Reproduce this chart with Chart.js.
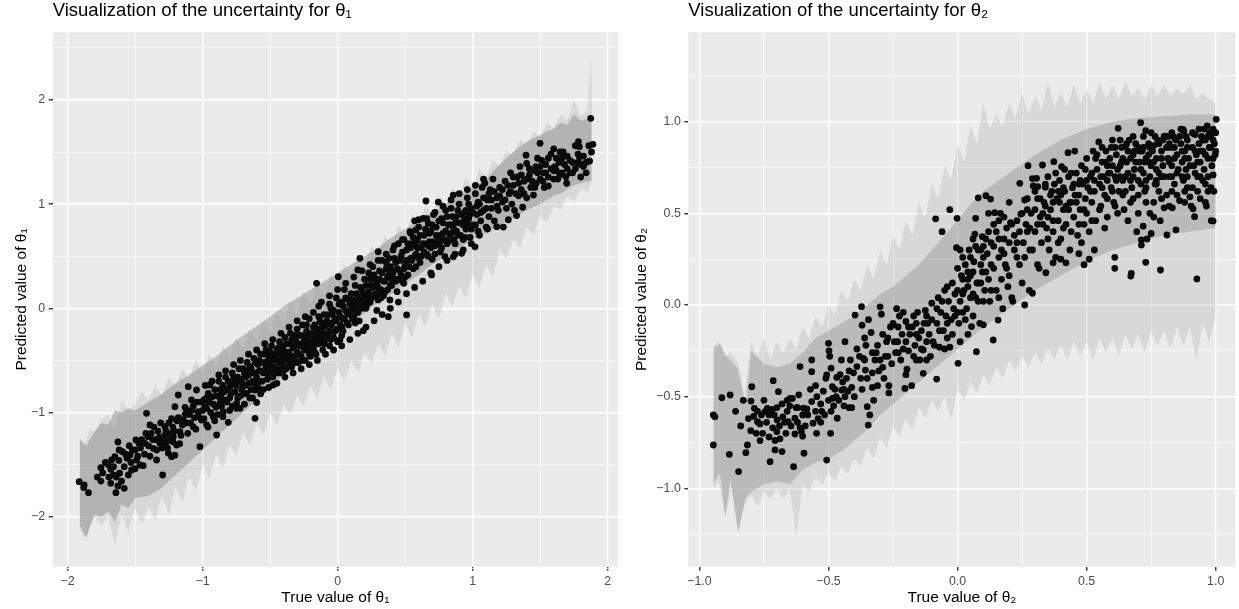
<!DOCTYPE html>
<html>
<head>
<meta charset="utf-8">
<script src="https://cdn.jsdelivr.net/npm/chart.js@4.4.1/dist/chart.umd.min.js"></script>
<style>
  html, body { margin: 0; padding: 0; background: #ffffff; }
  #left { position: absolute; left: 0; top: 0; }
  #right { position: absolute; left: 624px; top: 0; }
</style>
</head>
<body>
<canvas id="left" width="624" height="609"></canvas>
<canvas id="right" width="615" height="609"></canvas>
<script>
// theta 1: [true value, predicted value]
const theta1Points = [
  [-1.914,-1.664],[-1.877,-1.696],[-1.845,-1.77],[-1.753,-1.53],[-1.753,-1.658],[-1.72,-1.48],[-1.694,-1.62],[-1.68,-1.545],
  [-1.674,-1.456],[-1.66,-1.60],[-1.65,-1.424],[-1.627,-1.283],[-1.618,-1.36],[-1.642,-1.77],[-1.627,-1.705],[-1.615,-1.583],
  [-1.58,-1.728],[-1.593,-1.376],[-1.56,-1.44],[-1.543,-1.318],[-1.538,-1.408],[-1.526,-1.552],[-1.50,-1.36],[-1.489,-1.456],
  [-1.47,-1.30],[-1.464,-1.504],[-1.494,-1.264],[-1.44,-1.51],
  [-1.88,-1.72],[-1.78,-1.62],[-1.74,-1.58],[-1.70,-1.50],[-1.68,-1.68],[-1.66,-1.52],[-1.64,-1.62],[-1.62,-1.46],
  [-1.60,-1.66],[-1.58,-1.52],[-1.57,-1.40],[-1.55,-1.60],[-1.53,-1.48],[-1.52,-1.36],[-1.50,-1.54],[-1.48,-1.42],
  [-1.46,-1.34],[-1.45,-1.26],[-1.43,-1.40],[-1.42,-1.20],[-1.40,-1.32],[-1.39,-1.42],[-1.37,-1.26],[-1.36,-1.14],
  [-1.34,-1.36],[-1.32,-1.24],[-1.31,-1.10],[-1.29,-1.28],[-1.27,-1.18],[-1.26,-1.34],[-1.25,-1.20],[-1.23,-1.06],[-1.22,-1.28],
  [-1.415,-1.008],[-1.39,-1.12],[-1.403,-1.232],[-1.427,-1.296],[-1.366,-1.344],[-1.341,-1.456],[-1.296,-1.6],[-1.316,-1.296],
  [-1.279,-1.136],[-1.267,-1.28],[-1.254,-1.39],[-1.23,-1.424],[-1.205,-1.41],[-1.217,-1.232],[-1.205,-0.944],[-1.193,-1.312],
  [-1.168,-1.184],[-1.18,-0.832],[-1.143,-1.072],[-1.119,-0.976],[-1.106,-0.752],[-1.082,-0.88],[-1.07,-1.136],[-1.045,-0.784],
  [-1.032,-0.992],[-1.02,-1.328],[-1.008,-1.072],[-0.983,-0.944],[-0.97,-1.12],[-0.958,-0.816],[-0.946,-0.736],
  [-1.38,-1.20],[-1.35,-1.26],[-1.33,-1.18],[-1.30,-1.34],[-1.28,-1.22],[-1.25,-1.10],[-1.24,-1.26],[-1.22,-1.14],
  [-1.18,-1.05],[-1.16,-1.22],[-1.13,-0.95],[-1.12,-1.10],[-1.10,-1.02],[-1.08,-0.98],[-1.06,-1.05],[-1.04,-0.90],
  [-1.00,-0.98],[-0.99,-0.88],
  [-1.21,-1.18],[-1.19,-1.08],[-1.17,-1.30],[-1.15,-1.12],[-1.13,-1.02],[-1.11,-1.20],[-1.09,-1.10],[-1.07,-0.94],
  [-1.05,-1.16],[-1.03,-1.04],[-1.01,-0.90],[-0.99,-1.06],[-0.97,-0.96],[-0.95,-0.90],[-0.94,-1.00],[-0.92,-0.92],
  [-0.90,-0.84],[-0.89,-1.02],[-0.87,-0.78],[-0.86,-0.94],[-0.85,-0.74],[-0.84,-0.80],[-0.82,-0.90],[-0.81,-0.70],
  [-0.79,-0.82],[-0.78,-0.94],[-0.77,-0.66],[-0.75,-0.74],[-0.74,-0.86],[-0.72,-0.70],[-0.71,-0.78],[-0.70,-0.58],
  [-0.69,-0.82],[-0.68,-0.66],[-0.66,-0.72],[-0.65,-0.56],[-0.64,-0.78],[-0.63,-0.62],[-0.62,-0.72],[-0.61,-0.52],
  [-0.60,-0.66],[-0.59,-0.76],[-0.58,-0.60],[-0.57,-0.52],[-0.56,-0.70],[-0.55,-0.62],[-0.54,-0.44],[-0.53,-0.56],
  [-0.52,-0.68],[-0.51,-0.54],[-0.50,-0.42],[-0.49,-0.60],[-0.48,-0.50],[-0.47,-0.56],[-0.46,-0.44],[-0.45,-0.62],
  [-0.98,-0.74],[-0.96,-1.14],[-0.93,-0.70],[-0.91,-1.08],[-0.88,-0.64],[-0.85,-1.04],[-0.83,-0.60],[-0.80,-0.98],
  [-0.77,-0.54],[-0.75,-0.96],[-0.72,-0.50],[-0.69,-0.92],[-0.66,-0.44],[-0.63,-0.86],[-0.60,-0.40],[-0.57,-0.82],
  [-0.54,-0.34],[-0.51,-0.76],[-0.48,-0.30],[-0.45,-0.72],[-0.42,-0.24],[-0.39,-0.66],[-0.36,-0.18],[-0.33,-0.62],
  [-0.30,-0.12],[-0.27,-0.58],[-0.24,-0.08],[-0.21,-0.54],[-0.18,-0.04],[-0.15,-0.50],[-0.12,0.06],[-0.09,-0.44],
  [-0.06,0.12],[-0.03,-0.40],[0.00,0.18],[0.03,-0.36],[0.06,0.24],[0.09,-0.30],[0.12,0.30],[0.15,-0.24],
  [0.18,0.36],[0.21,-0.18],[0.24,0.42],[0.27,-0.12],[0.30,0.46],[0.33,-0.06],[0.36,0.52],[0.39,0.00],
  [0.42,0.60],[0.45,0.06],[0.48,0.66],[0.51,0.14],[0.54,0.72],[0.57,0.20],[0.60,0.78],[0.63,0.26],
  [0.66,0.86],[0.69,0.34],[0.72,0.92],[0.75,0.40],[0.78,0.98],[0.81,0.46],[0.84,1.04],[0.87,0.52],
  [0.90,1.10],[0.93,0.56],[0.96,1.14],[0.99,0.62],[1.02,1.18],[1.05,0.70],[1.08,1.24],[1.11,0.76],
  [-0.97,-0.86],[-0.87,-0.86],[-0.76,-0.70],[-0.67,-0.60],[-0.58,-0.50],[-0.49,-0.46],[-0.41,-0.46],[-0.32,-0.26],
  [-0.23,-0.16],[-0.14,-0.08],[-0.05,0.00],[0.04,-0.22],[0.13,-0.14],[0.22,0.10],[0.31,0.14],[0.40,0.28],
  [0.49,0.24],[0.58,0.62],[0.67,0.60],[0.76,0.64],[0.85,0.80],[0.94,0.86],[1.03,0.98],
  [-0.921,-1.04],[-0.896,-1.216],[-0.872,-0.912],[-0.847,-0.992],[-0.81,-1.094],[-0.798,-0.752],[-0.748,-0.912],[-0.723,-0.96],
  [-0.70,-0.736],[-0.674,-0.816],[-0.612,-1.056],[-0.60,-0.904],[-0.612,-0.784],[-0.477,-0.736],
  [-0.93,-0.85],[-0.91,-0.78],[-0.90,-0.95],[-0.88,-0.70],[-0.86,-0.82],[-0.84,-0.88],[-0.83,-0.66],[-0.82,-0.78],
  [-0.80,-0.86],[-0.78,-0.62],[-0.77,-0.72],[-0.76,-0.80],[-0.74,-0.66],[-0.73,-0.58],[-0.72,-0.84],[-0.71,-0.68],
  [-0.69,-0.62],[-0.68,-0.74],[-0.67,-0.52],[-0.66,-0.64],[-0.65,-0.86],[-0.64,-0.58],[-0.63,-0.70],[-0.62,-0.48],
  [-0.61,-0.62],[-0.59,-0.54],[-0.58,-0.70],[-0.57,-0.44],[-0.56,-0.60],[-0.55,-0.78],[-0.54,-0.52],[-0.53,-0.40],
  [-0.52,-0.62],[-0.51,-0.48],[-0.50,-0.56],[-0.49,-0.36],[-0.48,-0.66],[-0.47,-0.46],
  [-0.44,-0.38],[-0.43,-0.52],[-0.42,-0.58],[-0.41,-0.40],[-0.40,-0.60],[-0.39,-0.46],[-0.38,-0.34],[-0.37,-0.56],
  [-0.36,-0.42],[-0.35,-0.52],[-0.34,-0.30],[-0.33,-0.46],[-0.32,-0.36],[-0.31,-0.52],[-0.30,-0.34],[-0.29,-0.26],
  [-0.28,-0.44],[-0.27,-0.34],[-0.26,-0.50],[-0.25,-0.28],[-0.24,-0.40],[-0.23,-0.34],[-0.22,-0.24],[-0.21,-0.44],
  [-0.20,-0.26],[-0.19,-0.36],[-0.18,-0.18],[-0.17,-0.42],[-0.16,-0.28],[-0.15,-0.34],[-0.14,-0.20],[-0.13,-0.30],
  [-0.12,-0.14],[-0.11,-0.24],[-0.10,-0.34],[-0.09,-0.16],[-0.08,-0.26],[-0.07,-0.06],[-0.06,-0.22],[-0.05,-0.30],
  [-0.04,-0.14],[-0.03,-0.02],[-0.02,-0.22],[-0.01,-0.12],[0.00,-0.20],[0.01,0.04],[0.02,-0.08],[0.03,-0.18],
  [-0.46,-0.58],[-0.45,-0.40],[-0.44,-0.50],[-0.43,-0.32],[-0.43,-0.62],[-0.42,-0.44],[-0.41,-0.54],[-0.40,-0.36],
  [-0.40,-0.48],[-0.39,-0.28],[-0.38,-0.42],[-0.38,-0.58],[-0.37,-0.50],[-0.36,-0.34],[-0.35,-0.46],[-0.35,-0.24],
  [-0.34,-0.56],[-0.33,-0.38],[-0.32,-0.48],[-0.31,-0.30],[-0.30,-0.42],[-0.30,-0.20],[-0.29,-0.52],[-0.28,-0.36],
  [-0.27,-0.26],[-0.27,-0.46],[-0.26,-0.16],[-0.25,-0.38],[-0.24,-0.30],[-0.24,-0.50],[-0.23,-0.22],[-0.22,-0.40],
  [-0.21,-0.10],[-0.20,-0.32],[-0.20,-0.46],[-0.19,-0.24],[-0.193,-0.448],[-0.18,-0.38],[-0.17,-0.16],[-0.17,-0.30],
  [-0.16,-0.44],[-0.156,0.24],[-0.15,-0.22],[-0.14,0.02],[-0.14,-0.34],[-0.13,-0.12],[-0.12,-0.26],[-0.11,-0.40],
  [-0.10,-0.18],[-0.10,-0.06],[-0.09,-0.30],[-0.08,-0.12],[-0.07,-0.24],[-0.06,0.04],[-0.06,-0.36],[-0.05,-0.16],
  [-0.04,-0.06],[-0.03,-0.28],[-0.02,-0.10],[-0.01,0.10],[-0.01,-0.20],[0.00,-0.32],[0.005,0.303],[0.01,-0.04],
  [0.017,-0.304],[0.02,-0.16],[0.03,0.06],[0.03,-0.26],[0.04,-0.10],[0.05,0.18],
  [0.04,0.02],[0.05,-0.10],[0.06,0.10],[0.07,-0.04],[0.08,-0.16],[0.09,0.04],[0.10,-0.02],[0.11,0.08],
  [0.12,-0.08],[0.13,0.04],[0.14,0.14],[0.15,-0.04],[0.16,0.06],[0.17,0.20],[0.18,0.00],[0.19,0.14],
  [0.20,0.06],[0.21,0.22],[0.22,0.04],[0.23,0.16],[0.24,0.28],[0.25,0.10],[0.26,0.20],[0.27,0.32],
  [0.28,0.14],[0.29,0.24],[0.30,0.08],[0.31,0.28],[0.32,0.18],[0.33,0.34],[0.34,0.12],[0.35,0.26],
  [0.36,0.44],[0.37,0.18],[0.38,0.32],[0.39,0.40],[0.40,0.22],[0.41,0.34],[0.42,0.48],[0.43,0.26],
  [0.44,0.38],[0.45,0.28],[0.46,0.46],[0.47,0.32],[0.48,0.54],[0.49,0.38],[0.50,0.30],[0.51,0.46],
  [0.06,-0.02],[0.07,-0.14],[0.08,0.08],[0.09,-0.06],[0.10,0.14],[0.11,-0.10],[0.12,0.02],[0.13,0.22],
  [0.14,-0.02],[0.15,0.10],[0.15,0.368],[0.16,-0.12],[0.165,0.48],[0.17,0.04],[0.18,0.18],[0.19,-0.215],
  [0.19,0.08],[0.20,0.28],[0.21,0.00],[0.22,0.14],[0.23,0.34],[0.24,0.06],[0.25,0.22],[0.26,0.40],
  [0.27,0.12],[0.28,0.28],[0.29,-0.02],[0.30,0.543],[0.30,0.20],[0.31,0.36],[0.32,0.10],[0.33,0.46],
  [0.34,0.26],[0.35,0.16],[0.36,0.38],[0.375,-0.08],[0.37,0.30],[0.387,0.08],[0.38,0.48],[0.39,0.22],
  [0.40,0.36],[0.41,0.56],[0.42,0.28],[0.43,0.44],[0.44,0.16],[0.45,0.62],[0.46,0.36],[0.47,0.50],
  [0.48,0.26],[0.49,0.66],[0.50,0.42],[0.511,-0.064],[0.51,0.56],[0.52,0.32],[0.536,0.735],[0.54,0.48],
  [0.55,0.62],[0.56,0.38],[0.57,0.84],[0.578,0.75],[0.58,0.52],[0.59,0.66],[0.60,0.85],
  [0.52,0.62],[0.53,0.40],[0.54,0.58],[0.55,0.46],[0.56,0.68],[0.57,0.50],[0.58,0.40],[0.59,0.58],
  [0.60,0.48],[0.61,0.70],[0.62,0.50],[0.63,0.62],[0.64,0.54],[0.65,0.76],[0.66,0.62],[0.67,0.50],
  [0.68,0.72],[0.69,0.58],[0.70,0.80],[0.71,0.64],[0.72,0.52],[0.73,0.70],[0.74,0.62],[0.75,0.84],
  [0.76,0.70],[0.77,0.58],[0.78,0.82],[0.79,0.66],[0.80,0.74],[0.81,0.88],[0.82,0.64],[0.83,0.80],
  [0.84,0.72],[0.85,0.88],[0.86,0.66],[0.87,0.82],[0.88,0.74],[0.89,0.94],[0.90,0.82],[0.91,0.70],
  [0.92,0.90],[0.93,0.80],[0.94,0.68],[0.95,0.94],[0.96,0.80],[0.97,1.00],[0.98,0.90],[0.99,0.76],
  [0.61,0.44],[0.62,0.58],[0.634,0.864],[0.64,0.70],[0.654,1.03],[0.66,0.52],[0.671,0.815],[0.68,0.64],
  [0.69,0.74],[0.696,0.32],[0.70,0.47],[0.71,0.90],[0.72,0.60],[0.73,0.78],[0.745,1.02],[0.75,0.68],
  [0.76,0.54],[0.77,0.86],[0.78,0.72],[0.795,0.495],[0.80,0.94],[0.81,0.62],[0.82,0.80],[0.83,0.70],
  [0.84,0.96],[0.856,1.087],[0.856,0.495],[0.86,0.76],[0.87,0.62],[0.88,0.88],[0.89,0.70],[0.90,1.00],
  [0.918,0.528],[0.92,0.82],[0.93,0.66],[0.94,0.92],[0.95,0.76],[0.96,1.06],[0.97,0.86],[0.98,0.68],
  [0.99,0.96],[1.00,0.80],[1.017,0.59],[1.02,1.10],[1.03,0.90],[1.04,0.74],[1.05,1.00],[1.06,0.84],
  [1.07,1.16],[1.08,0.94],[1.09,1.20],[1.10,0.78],[1.11,1.04],[1.12,0.88],[1.13,1.14],[1.14,0.96],
  [1.15,1.24],[1.16,0.84],[1.178,0.783],[1.18,1.06],[1.19,0.94],[1.20,1.16],
  [1.00,0.92],[1.02,0.80],[1.04,1.02],[1.06,0.92],[1.08,1.06],[1.10,0.96],[1.12,1.10],[1.14,1.04],
  [1.16,1.12],[1.18,0.98],[1.20,1.08],[1.22,1.14],[1.24,1.04],[1.26,1.18],[1.28,1.12],[1.30,1.26],
  [1.32,1.10],[1.34,1.20],[1.36,1.28],[1.38,1.10],[1.40,1.24],[1.42,1.34],[1.44,1.22],[1.46,1.16],
  [1.48,1.30],[1.50,1.36],[1.52,1.22],[1.54,1.30],[1.56,1.44],[1.58,1.34],[1.60,1.24],[1.62,1.32],
  [1.64,1.40],[1.66,1.30],[1.68,1.38],[1.70,1.46],[1.72,1.30],[1.74,1.40],[1.76,1.34],[1.78,1.48],
  [1.80,1.38],[1.82,1.46],[1.84,1.40],[1.86,1.56],[1.88,1.50],
  [1.22,1.02],[1.227,0.78],[1.24,1.22],[1.25,0.96],[1.264,0.85],[1.27,1.10],[1.28,1.30],[1.29,1.00],
  [1.30,1.18],[1.31,0.94],[1.325,0.89],[1.33,1.26],[1.34,1.08],[1.35,1.36],[1.36,1.14],[1.37,0.97],
  [1.38,1.22],[1.395,1.47],[1.40,1.39],[1.40,1.06],[1.42,1.28],[1.43,1.16],[1.45,1.087],[1.46,1.32],
  [1.468,1.36],[1.47,1.20],[1.48,1.44],[1.499,1.583],[1.50,1.24],[1.51,1.42],[1.52,1.30],[1.53,1.16],
  [1.54,1.38],[1.56,1.174],[1.56,1.26],[1.58,1.48],[1.60,1.53],[1.60,1.32],[1.61,1.36],[1.62,1.44],
  [1.63,1.24],[1.646,1.50],[1.645,1.28],[1.66,1.44],[1.67,1.50],[1.69,1.263],[1.696,1.20],[1.70,1.34],
  [1.72,1.42],[1.74,1.30],[1.76,1.56],[1.78,1.40],[1.783,1.60],[1.785,1.40],[1.79,1.55],[1.79,1.455],
  [1.80,1.26],[1.82,1.36],[1.84,1.30],[1.866,1.413],[1.874,1.823],[1.89,1.574]
];

// theta 1 uncertainty, light outer envelope
const band1OuterX = [
  -1.91,-1.87,-1.83,-1.80,-1.75,-1.70,-1.65,-1.60,-1.55,-1.50,
  -1.45,-1.40,-1.35,-1.30,-1.25,-1.20,-1.15,-1.10,-1.05,-1.00,
  -0.95,-0.90,-0.85,-0.80,-0.75,-0.70,-0.65,-0.60,-0.55,-0.50,
  -0.45,-0.40,-0.35,-0.30,-0.25,-0.20,-0.15,-0.10,-0.05,0.00,
  0.05,0.10,0.15,0.20,0.25,0.30,0.35,0.40,0.45,0.50,
  0.55,0.60,0.65,0.70,0.75,0.80,0.85,0.90,0.95,1.00,
  1.05,1.10,1.15,1.20,1.25,1.30,1.35,1.40,1.45,1.50,
  1.55,1.60,1.65,1.70,1.75,1.80,1.85,1.875,1.885
];
const band1OuterLo = [
  -2.12,-2.22,-2.05,-2.00,-2.08,-2.00,-2.26,-1.98,-2.14,-1.92,
  -2.08,-1.90,-2.04,-1.80,-1.98,-1.72,-1.86,-1.62,-1.76,-1.50,
  -1.64,-1.40,-1.54,-1.30,-1.42,-1.20,-1.32,-1.10,-1.22,-1.00,
  -1.12,-0.92,-1.02,-0.84,-0.94,-0.74,-0.86,-0.66,-0.78,-0.58,
  -0.70,-0.50,-0.62,-0.42,-0.54,-0.34,-0.46,-0.24,-0.38,-0.14,
  -0.28,-0.06,-0.18,0.04,-0.10,0.14,0.02,0.22,0.10,0.32,
  0.20,0.42,0.30,0.56,0.48,0.66,0.58,0.78,0.70,0.88,
  0.82,0.98,0.95,1.08,1.02,1.15,1.12,1.20,1.25
];
const band1OuterHi = [
  -1.24,-1.30,-1.15,-1.20,-1.08,-1.02,-1.18,-0.88,-0.98,-0.92,
  -0.80,-0.88,-0.74,-0.84,-0.66,-0.76,-0.58,-0.68,-0.50,-0.62,
  -0.44,-0.56,-0.36,-0.48,-0.28,-0.40,-0.20,-0.32,-0.12,-0.24,
  -0.04,-0.16,0.06,-0.06,0.16,0.04,0.24,0.12,0.32,0.22,
  0.42,0.32,0.50,0.40,0.60,0.50,0.70,0.60,0.80,0.70,
  0.90,0.80,0.98,0.90,1.08,0.98,1.16,1.08,1.26,1.16,
  1.34,1.26,1.42,1.36,1.52,1.46,1.62,1.56,1.70,1.64,
  1.78,1.72,1.86,1.80,2.00,1.84,1.90,2.40,1.85
];
// theta 1 uncertainty, denser core
const band1InnerX = [
  -1.91,-1.86,-1.80,-1.75,-1.70,-1.65,-1.60,-1.55,-1.50,-1.40,
  -1.30,-1.20,-1.10,-1.00,-0.90,-0.80,-0.70,-0.60,-0.50,-0.40,
  -0.30,-0.20,-0.10,0.00,0.10,0.20,0.30,0.40,0.50,0.60,
  0.70,0.80,0.90,1.00,1.10,1.20,1.30,1.40,1.50,1.55,
  1.60,1.65,1.70,1.75,1.80,1.85,1.88
];
const band1InnerLo = [
  -2.08,-2.20,-1.98,-2.00,-1.95,-2.05,-1.88,-1.92,-1.82,-1.80,
  -1.72,-1.60,-1.48,-1.36,-1.24,-1.12,-1.00,-0.88,-0.76,-0.64,
  -0.53,-0.43,-0.33,-0.24,-0.14,-0.04,0.06,0.14,0.24,0.32,
  0.42,0.50,0.58,0.66,0.72,0.80,0.86,0.94,1.00,1.04,
  1.08,1.10,1.14,1.18,1.20,1.22,1.22
];
const band1InnerHi = [
  -1.26,-1.32,-1.18,-1.10,-1.12,-0.98,-1.00,-0.96,-0.98,-0.90,
  -0.82,-0.72,-0.64,-0.55,-0.46,-0.36,-0.26,-0.17,-0.08,0.02,
  0.10,0.18,0.26,0.34,0.42,0.50,0.58,0.68,0.76,0.84,
  0.92,1.00,1.08,1.16,1.24,1.38,1.50,1.60,1.66,1.70,
  1.72,1.78,1.76,1.86,1.80,1.82,1.80
];

// theta 2: [true value, predicted value]
const theta2Points = [
  [-0.946,-0.60],[-0.94,-0.61],[-0.946,-0.764],[-0.913,-0.506],[-0.881,-0.491],[-0.884,-0.815],[-0.848,-0.909],[-0.814,-0.764],
  [-0.82,-0.806],[-0.801,-0.686],[-0.797,-0.446],[-0.80,-0.524],[-0.787,-0.564],[-0.79,-0.608],[-0.775,-0.637],[-0.765,-0.649],
  [-0.765,-0.74],[-0.746,-0.582],[-0.737,-0.564],[-0.726,-0.855],[-0.716,-0.67],[-0.714,-0.413],[-0.707,-0.739],[-0.707,-0.791],
  [-0.70,-0.691],[-0.699,-0.627],[-0.694,-0.473],[-0.688,-0.73],[-0.677,-0.61],[-0.656,-0.637],[-0.649,-0.509],[-0.63,-0.618],
  [-0.63,-0.704],[-0.61,-0.67],[-0.635,-0.882],[-0.625,-0.56],[-0.61,-0.336],[-0.597,-0.563],[-0.595,-0.809],[-0.584,-0.567],
  [-0.775,-0.58],[-0.76,-0.60],[-0.755,-0.70],[-0.74,-0.64],[-0.73,-0.60],[-0.72,-0.57],[-0.71,-0.60],[-0.69,-0.66],
  [-0.68,-0.54],[-0.67,-0.64],[-0.665,-0.70],[-0.66,-0.58],[-0.65,-0.55],[-0.645,-0.66],[-0.64,-0.51],[-0.62,-0.64],
  [-0.615,-0.49],[-0.60,-0.60],[-0.605,-0.69],
  [-0.86,-0.58],[-0.84,-0.66],[-0.83,-0.52],[-0.81,-0.62],[-0.78,-0.70],[-0.75,-0.52],[-0.73,-0.72],[-0.70,-0.56],
  [-0.68,-0.80],[-0.66,-0.52],[-0.62,-0.56],[-0.59,-0.66],[-0.57,-0.46],
  [-0.565,-0.527],[-0.565,-0.364],[-0.565,-0.30],[-0.58,-0.60],[-0.56,-0.645],[-0.546,-0.70],[-0.60,-0.716],[-0.526,-0.58],
  [-0.507,-0.846],[-0.492,-0.70],[-0.507,-0.382],[-0.50,-0.209],[-0.498,-0.25],[-0.495,-0.28],[-0.49,-0.345],[-0.485,-0.446],
  [-0.485,-0.51],[-0.468,-0.395],[-0.466,-0.618],[-0.449,-0.464],[-0.445,-0.42],[-0.436,-0.50],[-0.43,-0.40],[-0.436,-0.20],
  [-0.42,-0.56],[-0.41,-0.45],[-0.403,-0.37],[-0.397,-0.055],[-0.41,-0.56],
  [-0.55,-0.58],[-0.545,-0.50],[-0.54,-0.62],[-0.53,-0.54],[-0.52,-0.47],[-0.515,-0.60],[-0.50,-0.52],[-0.48,-0.55],
  [-0.475,-0.46],[-0.46,-0.52],[-0.455,-0.38],[-0.44,-0.55],[-0.425,-0.47],[-0.415,-0.30],
  [-0.55,-0.44],[-0.53,-0.64],[-0.51,-0.40],[-0.49,-0.58],[-0.47,-0.50],[-0.45,-0.30],[-0.44,-0.46],[-0.42,-0.36],
  [-0.40,-0.50],[-0.39,-0.24],[-0.37,-0.46],[-0.36,-0.30],[-0.35,-0.40],[-0.33,-0.26],[-0.31,-0.44],[-0.30,-0.30],
  [-0.39,-0.336],[-0.372,-0.009],[-0.37,-0.11],[-0.365,-0.291],[-0.36,-0.18],[-0.357,-0.355],[-0.35,-0.555],[-0.346,-0.655],
  [-0.34,-0.60],[-0.33,-0.37],[-0.33,-0.45],[-0.32,-0.30],[-0.315,-0.26],[-0.31,-0.22],[-0.30,-0.01],[-0.29,-0.16],
  [-0.28,-0.28],[-0.27,-0.28],[-0.266,-0.44],[-0.266,-0.48],[-0.26,-0.12],[-0.249,-0.109],[-0.245,-0.20],[-0.236,-0.02],
  [-0.232,-0.20],[-0.23,-0.12],[-0.22,-0.30],[-0.204,-0.455],[-0.20,-0.09],[-0.20,-0.38],[-0.196,-0.35],[-0.19,-0.25],
  [-0.185,-0.16],[-0.178,-0.44],[-0.17,-0.06],[-0.165,-0.22],[-0.16,-0.30],[-0.146,-0.30],[-0.14,-0.14],[-0.133,-0.373],
  [-0.133,-0.245],[-0.125,-0.03],[-0.12,-0.20],[-0.115,-0.10],[-0.105,-0.28],
  [-0.38,-0.28],[-0.375,-0.40],[-0.355,-0.22],[-0.345,-0.08],[-0.335,-0.15],[-0.325,-0.52],[-0.305,-0.36],[-0.295,-0.05],
  [-0.285,-0.40],[-0.275,-0.20],[-0.255,-0.32],[-0.24,-0.26],[-0.225,-0.06],[-0.215,-0.16],[-0.21,-0.24],[-0.175,-0.12],
  [-0.155,-0.04],[-0.15,-0.18],[-0.13,-0.10],[-0.11,-0.16],
  [-0.29,-0.34],[-0.27,-0.18],[-0.25,-0.10],[-0.23,-0.26],[-0.21,-0.04],[-0.19,-0.12],[-0.17,-0.28],[-0.16,-0.10],
  [-0.14,-0.24],[-0.12,-0.30],[-0.10,-0.08],[-0.09,-0.22],[-0.07,-0.14],[-0.06,0.02],[-0.05,-0.24],[-0.04,0.10],
  [-0.02,-0.16],[-0.01,-0.06],[0.00,0.08],[0.01,-0.20],[0.03,-0.08],[0.04,0.14],[0.06,-0.06],[0.08,0.12],[0.10,0.02],
  [-0.20,-0.20],[-0.16,-0.16],[-0.12,-0.06],[-0.08,-0.02],[-0.04,-0.10],[0.00,-0.04],[0.02,0.06],[0.05,0.16],
  [0.07,0.04],[0.09,0.30],[0.11,0.18],[0.13,0.08],
  [-0.10,0.01],[-0.095,-0.20],[-0.085,0.47],[-0.081,-0.404],[-0.08,-0.10],[-0.075,0.04],[-0.07,-0.23],[-0.065,-0.04],
  [-0.06,0.40],[-0.055,-0.14],[-0.05,0.08],[-0.045,-0.06],[-0.04,-0.18],[-0.035,0.02],[-0.03,-0.23],[-0.03,0.52],
  [-0.025,-0.08],[-0.02,0.12],[-0.015,-0.02],[-0.01,0.06],[-0.004,0.313],[-0.002,0.473],[0.002,-0.318],[0.005,-0.10],
  [0.01,0.02],[0.015,0.16],[0.02,-0.04],[0.025,0.08],[0.03,0.22],[0.035,-0.02],[0.04,0.10],[0.045,0.30],
  [0.05,0.04],[0.054,-0.118],[0.06,0.18],[0.063,0.236],[0.067,0.387],[0.07,0.473],[0.073,-0.255],[0.075,0.12],
  [0.08,0.585],[0.08,0.02],[0.086,-0.10],[0.09,0.22],[0.096,0.373],[0.096,0.18],[0.10,-0.108],[0.105,0.08],
  [0.11,0.596],[0.115,0.28],[0.12,0.14],[0.125,0.02],[0.128,0.578],[0.13,0.34],[0.138,-0.191],[0.14,0.20],
  [0.144,0.504],[0.15,0.08],[0.157,-0.082],[0.16,0.46],[0.16,0.26],[0.166,0.50],[0.17,0.14],[0.175,-0.02],
  [0.18,0.36],[0.185,0.22],[0.19,0.42],[0.195,0.10],
  [0.00,0.20],[0.02,0.26],[0.04,-0.16],[0.06,0.06],[0.08,0.30],[0.10,0.26],[0.12,0.40],[0.14,0.32],
  [0.16,0.04],[0.18,0.28],[0.20,0.16],[0.22,0.30],[0.24,0.22],
  [0.02,0.14],[0.05,0.26],[0.07,0.32],[0.09,0.12],[0.11,0.36],[0.13,0.22],[0.15,0.40],[0.17,0.30],
  [0.19,0.20],[0.21,0.44],[0.23,0.34],[0.25,0.50],[0.27,0.40],[0.29,0.30],[0.31,0.58],[0.33,0.50],
  [0.35,0.36],[0.37,0.46],[0.39,0.62],[0.41,0.42],[0.43,0.52],[0.45,0.66],[0.47,0.44],[0.49,0.52],
  [0.26,0.26],[0.28,0.42],[0.30,0.62],[0.34,0.66],[0.24,0.40],[0.20,0.34],[0.18,0.48],[0.14,0.44],
  [0.10,0.32],[0.06,0.36],[0.04,0.18],[0.01,0.30],
  [0.12,0.50],[0.16,0.36],[0.20,0.56],[0.23,0.46],[0.27,0.52],[0.31,0.44],[0.34,0.54],[0.36,0.60],
  [0.38,0.72],[0.41,0.64],[0.44,0.72],[0.47,0.66],[0.50,0.68],
  [0.205,0.449],[0.21,0.04],[0.214,0.02],[0.22,0.38],[0.23,0.26],[0.241,0.664],[0.245,0.496],[0.25,0.12],
  [0.255,0.34],[0.26,0.573],[0.26,0.00],[0.265,0.44],[0.27,0.58],[0.273,0.76],[0.278,0.08],[0.28,0.30],
  [0.285,0.50],[0.29,0.064],[0.29,0.69],[0.293,0.65],[0.30,0.40],[0.306,0.691],[0.31,0.22],[0.311,0.646],
  [0.316,0.20],[0.32,0.48],[0.325,0.34],[0.329,0.764],[0.335,0.56],[0.34,0.643],[0.342,0.176],[0.345,0.42],
  [0.35,0.70],[0.355,0.30],[0.36,0.52],[0.365,0.62],[0.37,0.40],[0.373,0.782],[0.38,0.26],[0.385,0.58],
  [0.39,0.46],[0.395,0.68],[0.40,0.36],[0.403,0.755],[0.41,0.52],[0.415,0.62],[0.42,0.44],[0.428,0.831],
  [0.43,0.70],[0.435,0.30],[0.44,0.56],[0.445,0.64],[0.45,0.48],[0.454,0.84],[0.46,0.72],[0.465,0.38],
  [0.47,0.60],[0.475,0.52],[0.48,0.76],[0.485,0.66],[0.49,0.44],[0.495,0.58],
  [0.30,0.52],[0.32,0.58],[0.33,0.44],[0.35,0.48],[0.37,0.56],[0.39,0.34],[0.40,0.60],[0.42,0.54],
  [0.44,0.40],[0.46,0.56],[0.48,0.34],[0.50,0.50],
  [0.37,0.23],[0.40,0.25],[0.42,0.23],[0.47,0.28],[0.49,0.22],[0.51,0.25],[0.53,0.30],
  [0.50,0.80],[0.505,0.64],[0.51,0.40],[0.515,0.70],[0.52,0.56],[0.525,0.84],[0.53,0.62],[0.535,0.46],
  [0.54,0.74],[0.547,0.89],[0.55,0.66],[0.555,0.54],[0.56,0.78],[0.565,0.70],[0.57,0.60],[0.575,0.84],
  [0.58,0.48],[0.585,0.72],[0.59,0.80],[0.595,0.64],[0.60,0.90],[0.60,0.76],[0.605,0.56],[0.609,0.20],
  [0.609,0.26],[0.61,0.70],[0.615,0.82],[0.622,0.964],[0.625,0.62],[0.63,0.76],[0.635,0.86],[0.64,0.68],
  [0.645,0.52],[0.65,0.865],[0.655,0.78],[0.66,0.72],[0.665,0.90],[0.671,0.158],[0.673,0.173],[0.675,0.64],
  [0.68,0.82],[0.685,0.74],[0.69,0.88],[0.694,0.40],[0.70,0.68],[0.705,0.78],[0.709,0.995],[0.712,0.327],
  [0.712,0.355],[0.715,0.84],[0.719,0.43],[0.72,0.72],[0.725,0.62],[0.729,0.951],[0.729,0.233],[0.73,0.80],
  [0.734,0.36],[0.74,0.88],[0.745,0.50],[0.745,0.70],
  [0.52,0.46],[0.55,0.52],[0.58,0.58],[0.61,0.54],[0.64,0.60],[0.67,0.56],[0.70,0.60],[0.73,0.64],
  [0.76,0.56],[0.79,0.58],[0.82,0.54],[0.85,0.60],[0.88,0.56],[0.91,0.64],[0.94,0.58],[0.97,0.62],
  [0.53,0.68],[0.59,0.72],[0.65,0.70],[0.71,0.66],[0.77,0.66],[0.83,0.70],[0.89,0.64],[0.95,0.68],
  [0.52,0.72],[0.54,0.82],[0.56,0.64],[0.58,0.76],[0.60,0.62],[0.61,0.86],[0.63,0.70],[0.64,0.80],
  [0.65,0.62],[0.66,0.84],[0.67,0.68],[0.68,0.92],[0.69,0.78],[0.70,0.86],[0.71,0.74],[0.72,0.92],
  [0.73,0.68],[0.74,0.82],[0.75,0.94],[0.76,0.78],[0.77,0.68],[0.78,0.88],[0.79,0.80],[0.80,0.70],
  [0.81,0.86],[0.82,0.78],[0.83,0.94],[0.84,0.86],[0.85,0.72],[0.86,0.92],[0.87,0.70],[0.88,0.80],
  [0.89,0.86],[0.90,0.76],[0.91,0.94],[0.92,0.84],[0.93,0.78],[0.94,0.70],[0.95,0.90],[0.96,0.82],
  [0.97,0.92],[0.98,0.86],[0.99,0.90],[1.00,0.84],[0.99,0.96],[0.975,0.94],[0.955,0.96],[0.935,0.96],
  [0.885,0.92],[0.865,0.96],[0.845,0.90],[0.815,0.92],[0.795,0.90],[0.765,0.92],[0.745,0.86],[0.725,0.78],
  [0.705,0.84],[0.685,0.84],[0.655,0.88],[0.635,0.78],[0.615,0.68],[0.595,0.86],[0.575,0.78],[0.555,0.70],
  [0.535,0.80],[0.515,0.62],[0.495,0.74],[0.475,0.68],[0.455,0.60],[0.435,0.56],[0.415,0.74],[0.395,0.56],[0.375,0.66],
  [0.75,0.39],[0.75,0.76],[0.755,0.84],[0.76,0.87],[0.765,0.66],[0.77,0.80],[0.775,0.90],[0.78,0.72],
  [0.785,0.46],[0.786,0.191],[0.79,0.84],[0.795,0.76],[0.80,0.53],[0.80,0.92],[0.806,0.922],[0.81,0.60],
  [0.811,0.382],[0.815,0.80],[0.82,0.70],[0.825,0.86],[0.83,0.76],[0.832,0.53],[0.835,0.92],[0.84,0.66],
  [0.846,0.41],[0.85,0.82],[0.855,0.74],[0.86,0.57],[0.865,0.88],[0.87,0.78],[0.873,0.958],[0.875,0.68],
  [0.876,0.95],[0.88,0.84],[0.885,0.74],[0.89,0.90],[0.895,0.80],[0.90,0.59],[0.905,0.54],[0.91,0.86],
  [0.912,0.937],[0.912,0.525],[0.915,0.76],[0.918,0.482],[0.92,0.93],[0.925,0.82],[0.927,0.142],[0.93,0.70],
  [0.935,0.88],[0.94,0.78],[0.945,0.92],[0.95,0.84],[0.955,0.74],[0.96,0.56],[0.96,0.90],[0.964,0.54],
  [0.967,0.977],[0.97,0.80],[0.975,0.86],[0.98,0.92],[0.982,0.64],[0.983,0.46],[0.985,0.76],[0.99,0.71],
  [0.99,0.458],[0.993,0.62],[0.995,0.88],[0.998,0.82],[1.00,0.94],[1.002,1.013],
  [0.56,0.86],[0.62,0.74],[0.67,0.80],[0.72,0.86],[0.77,0.74],[0.82,0.88],[0.87,0.84],[0.92,0.72],
  [0.97,0.70],[0.58,0.68],[0.63,0.90],[0.68,0.70],[0.74,0.78],[0.79,0.70],[0.84,0.80],[0.89,0.70],
  [0.94,0.84],[0.99,0.80],[0.96,0.66],[0.93,0.62],[0.88,0.62],[0.83,0.62],[0.78,0.62],[0.73,0.56],
  [0.68,0.58],[0.66,0.46],[0.70,0.50],[0.76,0.48],[0.62,0.50],[0.57,0.42]
];

// theta 2 uncertainty, light outer envelope
const band2OuterX = [
  -0.946,-0.925,-0.900,-0.875,-0.850,-0.825,-0.800,-0.775,-0.750,-0.725,
  -0.700,-0.675,-0.650,-0.625,-0.600,-0.575,-0.550,-0.525,-0.500,-0.475,
  -0.450,-0.425,-0.400,-0.375,-0.350,-0.325,-0.300,-0.275,-0.250,-0.225,
  -0.200,-0.175,-0.150,-0.125,-0.100,-0.075,-0.050,-0.025,0.000,0.025,
  0.050,0.075,0.100,0.125,0.150,0.175,0.200,0.225,0.250,0.275,
  0.300,0.325,0.350,0.375,0.400,0.425,0.450,0.475,0.500,0.525,
  0.550,0.575,0.600,0.625,0.650,0.675,0.700,0.725,0.750,0.775,
  0.800,0.825,0.850,0.875,0.900,0.925,0.950,0.975,1.000
];
const band2OuterLo = [
  -1.00,-0.96,-1.16,-1.00,-1.24,-1.08,-1.04,-1.10,-1.02,-1.06,
  -1.00,-1.06,-1.00,-1.26,-0.98,-1.02,-0.94,-0.98,-0.92,-0.96,
  -0.88,-0.92,-0.84,-0.88,-0.78,-0.84,-0.72,-0.78,-0.66,-0.72,
  -0.62,-0.68,-0.56,-0.62,-0.52,-0.58,-0.50,-0.62,-0.46,-0.52,
  -0.42,-0.48,-0.38,-0.44,-0.34,-0.40,-0.30,-0.36,-0.28,-0.34,
  -0.26,-0.32,-0.24,-0.30,-0.22,-0.30,-0.20,-0.28,-0.20,-0.30,
  -0.18,-0.26,-0.18,-0.28,-0.16,-0.24,-0.16,-0.26,-0.14,-0.22,
  -0.14,-0.24,-0.12,-0.22,-0.12,-0.30,-0.10,-0.20,-0.05
];
const band2OuterHi = [
  -0.22,-0.20,-0.28,-0.26,-0.32,-0.50,-0.20,-0.28,-0.18,-0.30,
  -0.20,-0.26,-0.18,-0.24,-0.12,-0.18,-0.06,-0.12,0.00,-0.06,
  0.08,0.02,0.14,0.08,0.22,0.14,0.30,0.22,0.38,0.30,
  0.46,0.38,0.56,0.48,0.66,0.58,0.76,0.68,0.88,0.78,
  0.98,0.88,1.10,0.96,1.04,0.98,1.10,1.02,1.16,1.04,
  1.14,1.06,1.22,1.08,1.16,1.08,1.20,1.10,1.18,1.10,
  1.22,1.12,1.20,1.12,1.22,1.14,1.18,1.12,1.20,1.14,
  1.20,1.14,1.18,1.15,1.20,1.12,1.16,1.12,1.10
];
// theta 2 uncertainty, denser core
const band2InnerX = [
  -0.946,-0.92,-0.90,-0.88,-0.85,-0.82,-0.80,-0.75,-0.70,-0.65,
  -0.60,-0.55,-0.50,-0.45,-0.40,-0.35,-0.30,-0.25,-0.20,-0.15,
  -0.10,-0.05,0.00,0.05,0.10,0.20,0.30,0.40,0.50,0.60,
  0.70,0.80,0.90,1.00
];
const band2InnerLo = [
  -0.97,-0.92,-1.15,-0.95,-1.24,-1.05,-1.02,-0.98,-0.96,-0.98,
  -0.90,-0.86,-0.84,-0.80,-0.74,-0.68,-0.60,-0.54,-0.48,-0.42,
  -0.36,-0.30,-0.24,-0.18,-0.12,-0.02,0.08,0.16,0.24,0.30,
  0.34,0.38,0.40,0.42
];
const band2InnerHi = [
  -0.24,-0.21,-0.27,-0.30,-0.35,-0.55,-0.25,-0.32,-0.34,-0.32,
  -0.26,-0.18,-0.14,-0.10,-0.06,0.00,0.06,0.10,0.16,0.22,
  0.30,0.38,0.46,0.55,0.62,0.72,0.82,0.90,0.96,1.00,
  1.02,1.03,1.04,1.04
];

const ticksX1 = [-2, -1.5, -1, -0.5, 0, 0.5, 1, 1.5, 2];
const ticksY1 = [-2.5, -2, -1.5, -1, -0.5, 0, 0.5, 1, 1.5, 2, 2.5];
const ticksX2 = [-1, -0.75, -0.5, -0.25, 0, 0.25, 0.5, 0.75, 1];
const ticksY2 = [-1.25, -1, -0.75, -0.5, -0.25, 0, 0.25, 0.5, 0.75, 1, 1.25];

Chart.defaults.font.family = '"Liberation Sans", Arial, Helvetica, sans-serif';

const panelBackground = {
  id: 'panelBackground',
  beforeDraw(chart) {
    const { ctx, chartArea: a } = chart;
    ctx.save();
    ctx.fillStyle = '#EBEBEB';
    ctx.fillRect(a.left, a.top, a.right - a.left, a.bottom - a.top);
    ctx.restore();
  }
};

const withMinus = (s) => s.replace('-', '\u2212');
const toXY = (xs, ys) => xs.map((x, i) => ({ x: x, y: ys[i] }));

function ribbon(xs, lo, hi, fillColor, order) {
  return [
    { type: 'line', data: toXY(xs, lo), showLine: true, borderWidth: 0, borderColor: 'rgba(0,0,0,0)',
      pointRadius: 0, fill: false, tension: 0, order: order },
    { type: 'line', data: toXY(xs, hi), showLine: true, borderWidth: 0, borderColor: 'rgba(0,0,0,0)',
      pointRadius: 0, fill: '-1', backgroundColor: fillColor, tension: 0, order: order }
  ];
}

function makeAxis(cfg, ticks, range, majorStep, fmt, titleText, isX) {
  const isMajor = (v) => Math.abs(v / majorStep - Math.round(v / majorStep)) < 1e-6;
  const tickVal = (c) => (c.tick ? c.tick.value : 0);
  return {
    type: 'linear',
    position: isX ? 'bottom' : 'left',
    min: range[0],
    max: range[1],
    afterBuildTicks: (s) => { s.ticks = ticks.map((v) => ({ value: v })); },
    afterFit: (s) => { if (isX) s.height = 42.3; else s.width = cfg.yWidth; },
    border: { display: false },
    grid: {
      color: '#FFFFFF',
      lineWidth: (c) => (isMajor(tickVal(c)) ? 1.5 : 0.75),
      drawTicks: true,
      tickLength: 4,
      tickWidth: 1.4,
      tickColor: (c) => (isMajor(tickVal(c)) ? '#333333' : 'rgba(0,0,0,0)')
    },
    ticks: {
      autoSkip: false,
      maxRotation: 0,
      padding: isX ? 3 : 3.5,
      color: '#4D4D4D',
      font: { size: 12.4 },
      callback: (v) => (isMajor(v) ? fmt(v) : '')
    },
    title: {
      display: true,
      text: titleText,
      color: '#000000',
      font: { size: 15.5 },
      padding: isX ? { top: 0, bottom: 2.2 } : { top: cfg.yTitlePad, bottom: 0 }
    }
  };
}

function makeChart(id, cfg) {
  return new Chart(document.getElementById(id), {
    type: 'scatter',
    data: {
      datasets: [
        { type: 'scatter', data: cfg.points.map((p) => ({ x: p[0], y: p[1] })), backgroundColor: '#0A0A0A',
          borderWidth: 0, pointRadius: 3.4, pointHoverRadius: 3.4, order: 0 },
        ...ribbon(cfg.innerX, cfg.innerLo, cfg.innerHi, cfg.innerFill, 1),
        ...ribbon(cfg.outerX, cfg.outerLo, cfg.outerHi, 'rgba(140,140,140,0.2)', 2)
      ]
    },
    options: {
      responsive: false,
      animation: false,
      events: [],
      layout: { padding: { left: 0, right: cfg.padRight, top: 0, bottom: 0 } },
      plugins: {
        legend: { display: false },
        tooltip: { enabled: false },
        title: {
          display: true,
          text: cfg.title,
          align: 'start',
          fullSize: false,
          color: '#000000',
          font: { size: 18.5, weight: 'normal' },
          padding: { top: 0, bottom: 10.1 }
        }
      },
      scales: {
        x: makeAxis(cfg, cfg.ticksX, cfg.xRange, cfg.major, cfg.fmt, cfg.xTitle, true),
        y: makeAxis(cfg, cfg.ticksY, cfg.yRange, cfg.major, cfg.fmt, cfg.yTitle, false)
      }
    },
    plugins: [panelBackground]
  });
}

makeChart('left', {
  points: theta1Points,
  innerX: band1InnerX, innerLo: band1InnerLo, innerHi: band1InnerHi,
  outerX: band1OuterX, outerLo: band1OuterLo, outerHi: band1OuterHi,
  innerFill: 'rgba(150,150,150,0.55)',
  ticksX: ticksX1, ticksY: ticksY1,
  xRange: [-2.11, 2.076], yRange: [-2.48, 2.649],
  major: 1,
  fmt: (v) => withMinus(String(v)),
  title: 'Visualization of the uncertainty for \u03b8\u2081',
  xTitle: 'True value of \u03b8\u2081',
  yTitle: 'Predicted value of \u03b8\u2081',
  yWidth: 52.7, yTitlePad: 12.2, padRight: 6
});

makeChart('right', {
  points: theta2Points,
  innerX: band2InnerX, innerLo: band2InnerLo, innerHi: band2InnerHi,
  outerX: band2OuterX, outerLo: band2OuterLo, outerHi: band2OuterHi,
  innerFill: 'rgba(150,150,150,0.45)',
  ticksX: ticksX2, ticksY: ticksY2,
  xRange: [-1.043, 1.077], yRange: [-1.428, 1.488],
  major: 0.5,
  fmt: (v) => withMinus(v.toFixed(1)),
  title: 'Visualization of the uncertainty for \u03b8\u2082',
  xTitle: 'True value of \u03b8\u2082',
  yTitle: 'Predicted value of \u03b8\u2082',
  yWidth: 64.3, yTitlePad: 8.7, padRight: 3
});
</script>
</body>
</html>
